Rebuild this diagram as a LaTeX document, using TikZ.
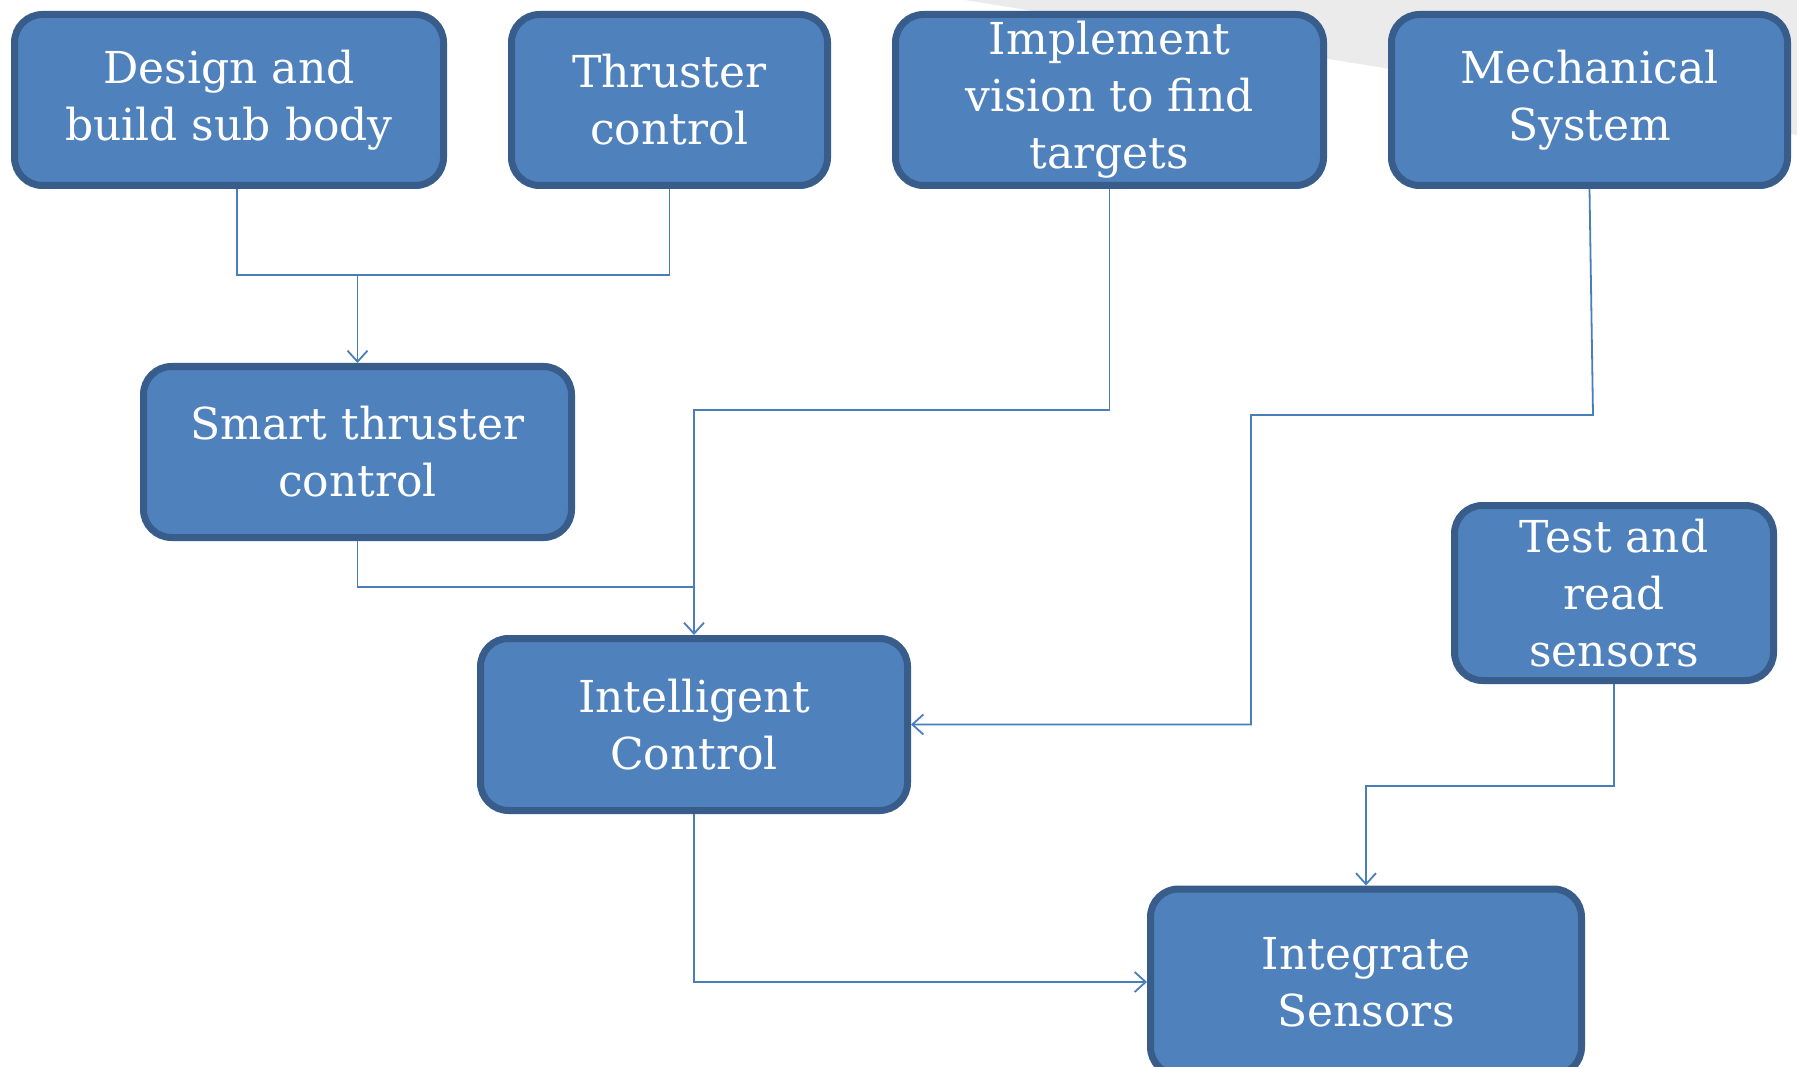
\documentclass[tikz,border=0pt]{standalone}
\usepackage{fontspec}
\setmainfont{DejaVu Serif}
\usetikzlibrary{arrows.meta}
\definecolor{boxfill}{HTML}{4F81BD}
\definecolor{boxline}{HTML}{385D8A}
\definecolor{connc}{HTML}{4A7EBB}
\definecolor{bggray}{HTML}{EBEBEB}
\tikzset{
  box/.style={draw=boxline, fill=boxfill, line width=7pt, rounded corners=28pt,
    text=white, align=center, inner sep=0pt,
    font=\fontsize{44}{57}\selectfont},
  conn/.style={draw=connc, line width=1.8pt},
  arr/.style={conn, -{Straight Barb[length=11pt,width=20pt,line width=1.8pt]}}
}
\begin{document}
\begin{tikzpicture}[x=1pt,y=-1pt]
\useasboundingbox (0,0) rectangle (1797,1067);
\clip (0,0) rectangle (1797,1067);
\fill[white] (0,0) rectangle (1797,1067);
\fill[bggray] (965,0) -- (1797,0) -- (1797,135) -- cycle;

\node[box, minimum width=429pt, minimum height=171pt] (design) at (229,100) {Design and\\build sub body};
\node[box, minimum width=316pt, minimum height=171pt] (thruster) at (669.5,100) {Thruster\\control};
\node[box, minimum width=428pt, minimum height=171pt] (implement) at (1109.5,100) {Implement\\vision to find\\targets};
\node[box, minimum width=396pt, minimum height=171pt] (mech) at (1589.5,100) {Mechanical\\System};
\node[box, minimum width=428pt, minimum height=171pt] (smart) at (357.5,452) {Smart thruster\\control};
\node[box, minimum width=427pt, minimum height=172pt] (intel) at (694,724.5) {Intelligent\\Control};
\node[box, minimum width=319pt, minimum height=175pt] (test) at (1614,593) {Test and\\read\\sensors};
\node[box, minimum width=431pt, minimum height=186pt] (integ) at (1366,982) {Integrate\\Sensors};

\coordinate (j1) at (357.5,275);
\draw[conn] ([xshift=8pt]design.south) |- (j1);
\draw[conn] (thruster.south) |- (j1);
\draw[arr] (j1) -- (smart.north);

\draw[arr] (implement.south) -- (implement.south |- 0,410) -| (intel.north);
\draw[conn] (smart.south) |- (intel.north |- 0,587);

\coordinate (m1) at (1593,415);
\coordinate (m2) at (1251,724.5);
\draw[arr] (mech.south) -- (m1) -| (m2) -- (intel.east);

\draw[arr] (test.south) -- (test.south |- 0,786) -| (integ.north);
\draw[arr] (intel.south) |- (integ.west);
\end{tikzpicture}
\end{document}
